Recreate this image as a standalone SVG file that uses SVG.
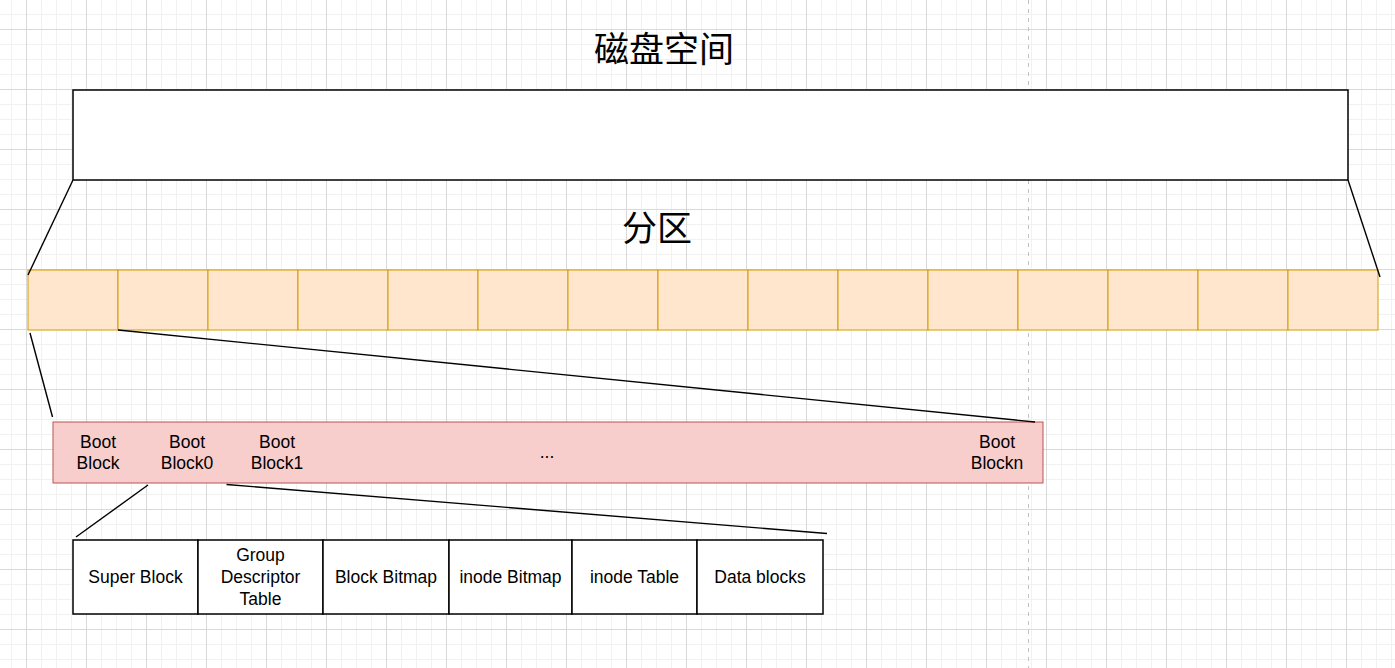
<svg xmlns="http://www.w3.org/2000/svg" width="1395" height="668" viewBox="0 0 1395 668">
<defs>
<pattern id="grid" x="26" y="29" width="60" height="60" patternUnits="userSpaceOnUse">
<path d="M15.5 0V60M30.5 0V60M45.5 0V60M0 15.5H60M0 30.5H60M0 45.5H60" stroke="#f1f1f1" stroke-width="1" fill="none"/>
<path d="M0.5 0V60M0 0.5H60" stroke="#d9d9d9" stroke-width="1" fill="none"/>
</pattern>
<style>
.t{font-family:"Liberation Sans",Arial,sans-serif;font-size:17.5px;fill:#000;text-anchor:middle}
.big{font-family:"Noto Sans CJK SC","Liberation Sans",sans-serif;font-size:35px;fill:#000;text-anchor:middle;dominant-baseline:central}
.cell{fill:#ffe6cc;stroke:#d79b00;stroke-width:1}
.sub{fill:#fff;stroke:#000;stroke-width:1.5}
.conn{stroke:#000;stroke-width:1.4;fill:none}
</style>
</defs>
<rect x="0" y="0" width="1395" height="668" fill="#fff"/>
<rect x="0" y="0" width="1395" height="668" fill="url(#grid)"/>
<line x1="1028.5" y1="0" x2="1028.5" y2="668" stroke="#c2c2c2" stroke-width="1" stroke-dasharray="4 5"/>

<g id="title-disk"><text class="big" x="664" y="46">磁盘空间</text></g>
<g id="disk"><rect x="73" y="90" width="1275" height="90" fill="#fff" stroke="#000" stroke-width="1.5"/></g>
<g id="title-partition"><text class="big" x="657" y="225">分区</text></g>

<g id="partition">
<rect class="cell" x="28" y="270" width="90" height="60"/>
<rect class="cell" x="118" y="270" width="90" height="60"/>
<rect class="cell" x="208" y="270" width="90" height="60"/>
<rect class="cell" x="298" y="270" width="90" height="60"/>
<rect class="cell" x="388" y="270" width="90" height="60"/>
<rect class="cell" x="478" y="270" width="90" height="60"/>
<rect class="cell" x="568" y="270" width="90" height="60"/>
<rect class="cell" x="658" y="270" width="90" height="60"/>
<rect class="cell" x="748" y="270" width="90" height="60"/>
<rect class="cell" x="838" y="270" width="90" height="60"/>
<rect class="cell" x="928" y="270" width="90" height="60"/>
<rect class="cell" x="1018" y="270" width="90" height="60"/>
<rect class="cell" x="1108" y="270" width="90" height="60"/>
<rect class="cell" x="1198" y="270" width="90" height="60"/>
<rect class="cell" x="1288" y="270" width="90" height="60"/>
</g>

<g id="block-group">
<rect x="53" y="422" width="990" height="61" fill="#f8cecc" stroke="#b85450" stroke-width="1"/>
<text class="t" x="98" y="448">Boot</text><text class="t" x="98" y="469">Block</text>
<text class="t" x="187" y="448">Boot</text><text class="t" x="187" y="469">Block0</text>
<text class="t" x="277" y="448">Boot</text><text class="t" x="277" y="469">Block1</text>
<text class="t" x="547" y="458">...</text>
<text class="t" x="997" y="448">Boot</text><text class="t" x="997" y="469">Blockn</text>
</g>

<g id="group-detail">
<rect class="sub" x="73" y="540" width="125" height="74"/>
<rect class="sub" x="198" y="540" width="125" height="74"/>
<rect class="sub" x="323" y="540" width="126" height="74"/>
<rect class="sub" x="449" y="540" width="123" height="74"/>
<rect class="sub" x="572" y="540" width="125" height="74"/>
<rect class="sub" x="697" y="540" width="126" height="74"/>
<text class="t" x="135.5" y="583">Super Block</text>
<text class="t" x="260.5" y="561">Group</text><text class="t" x="260.5" y="583">Descriptor</text><text class="t" x="260.5" y="605">Table</text>
<text class="t" x="386" y="583">Block Bitmap</text>
<text class="t" x="510.5" y="583">inode Bitmap</text>
<text class="t" x="634.5" y="583">inode Table</text>
<text class="t" x="760" y="583">Data blocks</text>
</g>

<g id="connectors">
<line class="conn" x1="73" y1="180" x2="28" y2="275"/>
<line class="conn" x1="1348" y1="180" x2="1380" y2="277"/>
<line class="conn" x1="30" y1="333" x2="52.5" y2="417"/>
<line class="conn" x1="118" y1="330" x2="1035" y2="422"/>
<line class="conn" x1="148" y1="485" x2="76" y2="537"/>
<line class="conn" x1="226.5" y1="484.5" x2="827" y2="533.5"/>
</g>
</svg>
